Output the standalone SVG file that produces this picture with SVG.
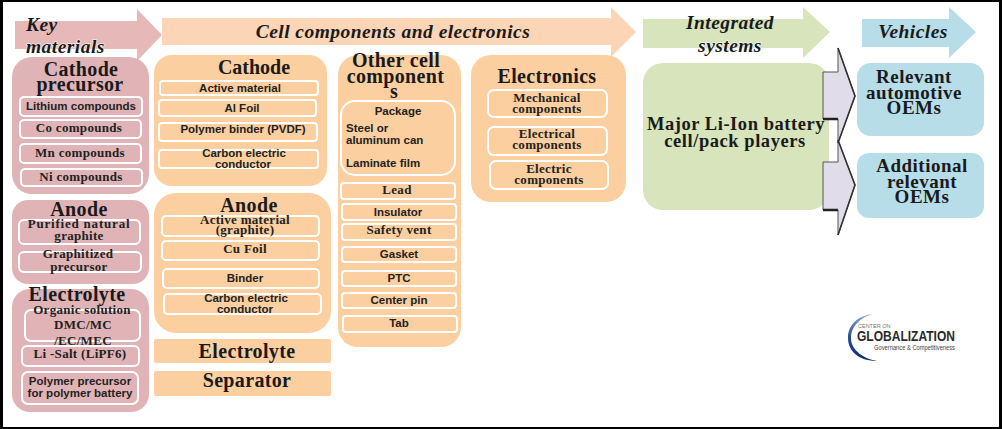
<svg xmlns="http://www.w3.org/2000/svg" width="1002" height="429" viewBox="0 0 1002 429">
<defs>
<linearGradient id="crescent" x1="0" y1="0" x2="0" y2="1"><stop offset="0" stop-color="#8fa5cc"/><stop offset="0.5" stop-color="#1f4e96"/><stop offset="1" stop-color="#0e2f6b"/></linearGradient>
</defs>
<style>
.pink{fill:#e0b4b6}
.or{fill:#fbcf9f}
.gr{fill:#d7e4bc}
.bl{fill:#b7dde8}
.in{fill:none;stroke:#fff;stroke-width:2}
.h{font-family:"Liberation Serif",serif;font-weight:700;fill:#1a1a1a;text-anchor:middle}
.h1{font-size:20px;letter-spacing:.35px}
.h2{font-size:19px;letter-spacing:.5px}
.t{font-family:"Liberation Sans",sans-serif;font-weight:700;font-size:11.5px;fill:#222;text-anchor:middle}
.s{font-family:"Liberation Serif",serif;font-weight:700;font-size:13px;letter-spacing:.3px;fill:#222;text-anchor:middle}
.i{font-family:"Liberation Serif",serif;font-weight:700;font-style:italic;font-size:19.5px;letter-spacing:.45px;fill:#1a1a1a;text-anchor:middle}
.fringe{stroke:#fff;stroke-width:1.2;paint-order:stroke}
.line{fill:#e0dcea;stroke:#555;stroke-width:1}
.edge{fill:none;stroke:#333;stroke-width:1.6}
.bar{fill:none;stroke:#222;stroke-width:2.5}
</style>
<rect x="0" y="0" width="1002" height="429" fill="#fff"/>

<g id="arrow-key-materials">
<polygon points="15,21 137,21 137,9 162,35 137,61 137,49 15,49" fill="#e6b9b8"/>
<text class="i" x="26" y="31" style="text-anchor:start">Key</text>
<text class="i fringe" x="26" y="53" style="text-anchor:start">materials</text>
</g>
<g id="arrow-cell-components">
<polygon points="162,18 611,18 611,7 636,32 611,57 611,45 162,45" fill="#fbd5b5"/>
<text class="i" x="393" y="38">Cell components and electronics</text>
</g>
<g id="arrow-integrated-systems">
<polygon points="643,19 803,19 803,7 830,32 803,58 803,48 643,48" class="gr"/>
<text class="i" x="730" y="29">Integrated</text>
<text class="i fringe" x="730" y="52">systems</text>
</g>
<g id="arrow-vehicles">
<polygon points="862,19 949,19 949,7 976,32 949,58 949,47 862,47" class="bl"/>
<text class="i" x="913" y="38">Vehicles</text>
</g>

<g id="cathode-precursor">
<rect class="pink" x="12" y="57" width="137" height="137" rx="20"/>
<text class="h h1" x="81" y="76">Cathode</text>
<text class="h h1" x="80" y="91">precursor</text>
<rect class="in" x="20" y="97" width="122" height="19" rx="4"/>
<rect class="in" x="20" y="120" width="121" height="18" rx="4"/>
<rect class="in" x="20" y="144" width="121" height="19" rx="4"/>
<rect class="in" x="21" y="169" width="121" height="17" rx="4"/>
<text class="t" x="81" y="110">Lithium compounds</text>
<text class="s" x="79" y="132">Co compounds</text>
<text class="s" x="80" y="157">Mn compounds</text>
<text class="s" x="81" y="181">Ni compounds</text>
</g>
<g id="anode-materials">
<rect class="pink" x="12" y="200" width="137" height="84" rx="16"/>
<text class="h h1" x="79" y="216">Anode</text>
<rect class="in" x="19" y="220" width="121" height="24" rx="5"/>
<rect class="in" x="19" y="252" width="122" height="20" rx="5"/>
<text class="s" x="79" y="228" style="letter-spacing:.8px">Purified natural</text>
<text class="s" x="79" y="240">graphite</text>
<text class="s" x="78" y="258">Graphitized</text>
<text class="s" x="79" y="271">precursor</text>
</g>
<g id="electrolyte-materials">
<rect class="pink" x="12" y="289" width="137" height="123" rx="18"/>
<text class="h h1" x="77" y="301">Electrolyte</text>
<rect class="in" x="25" y="310" width="115" height="31" rx="6"/>
<rect class="in" x="22" y="346" width="117" height="20" rx="5"/>
<rect class="in" x="22" y="372" width="116" height="32" rx="6"/>
<text class="s" x="82" y="314">Organic solution</text>
<text class="s" x="83" y="329">DMC/MC</text>
<text class="s" x="83" y="345">/EC/MEC</text>
<text class="s" x="80" y="358">Li -Salt (LiPF6)</text>
<text class="t" x="80" y="385">Polymer precursor</text>
<text class="t" x="80" y="397">for polymer battery</text>
</g>

<g id="cathode-cell">
<rect class="or" x="154" y="55" width="173" height="131" rx="18"/>
<text class="h h1" x="254" y="74" style="letter-spacing:0">Cathode</text>
<rect class="in" x="160" y="81" width="158" height="14" rx="3"/>
<rect class="in" x="159" y="100" width="157" height="16" rx="3"/>
<rect class="in" x="159" y="123" width="158" height="18" rx="3"/>
<rect class="in" x="159" y="150" width="159" height="18" rx="3"/>
<text class="t" x="240" y="92">Active material</text>
<text class="t" x="242" y="112">Al Foil</text>
<text class="t" x="243" y="133">Polymer binder (PVDF)</text>
<text class="t" x="244" y="157">Carbon electric</text>
<text class="t" x="243" y="168">conductor</text>
</g>
<g id="anode-cell">
<rect class="or" x="154" y="193" width="177" height="140" rx="22"/>
<text class="h h1" x="249" y="212">Anode</text>
<rect class="in" x="162" y="216" width="157" height="20" rx="4"/>
<rect class="in" x="162" y="241" width="157" height="19" rx="4"/>
<rect class="in" x="163" y="269" width="156" height="19" rx="4"/>
<rect class="in" x="164" y="294" width="157" height="20" rx="4"/>
<text class="s" x="245" y="224">Active material</text>
<text class="s" x="245" y="234">(graphite)</text>
<text class="s" x="245" y="253">Cu Foil</text>
<text class="t" x="245" y="282">Binder</text>
<text class="t" x="246" y="302">Carbon electric</text>
<text class="t" x="245" y="313">conductor</text>
</g>
<g id="electrolyte-cell">
<rect class="or" x="154" y="339" width="177" height="24" rx="2"/>
<text class="h h1" x="247" y="358">Electrolyte</text>
</g>
<g id="separator-cell">
<rect class="or" x="154" y="371" width="177" height="25" rx="2"/>
<text class="h h1" x="247" y="387">Separator</text>
</g>

<g id="other-cell-components">
<rect class="or" x="338" y="55" width="123" height="292" rx="20"/>
<text class="h h1" x="396" y="67">Other cell</text>
<text class="h h1" x="395.500" y="83">component</text>
<text class="h h1" x="394" y="98">s</text>
<rect class="in" x="341" y="101" width="114" height="74" rx="14"/>
<text class="t" x="398" y="115">Package</text>
<text class="t" x="346" y="132" style="text-anchor:start">Steel  or</text>
<text class="t" x="346" y="144" style="text-anchor:start">aluminum can</text>
<text class="t" x="346" y="167" style="text-anchor:start">Laminate film</text>
<rect class="in" x="341" y="183" width="114" height="16" rx="3"/>
<rect class="in" x="342" y="204" width="114" height="16" rx="3"/>
<rect class="in" x="342" y="224" width="114" height="16" rx="3"/>
<rect class="in" x="342" y="247" width="114" height="15" rx="3"/>
<rect class="in" x="342" y="271" width="114" height="15" rx="3"/>
<rect class="in" x="342" y="293" width="114" height="15" rx="3"/>
<rect class="in" x="343" y="316" width="114" height="16" rx="3"/>
<text class="s" x="397" y="194">Lead</text>
<text class="t" x="398" y="216">Insulator</text>
<text class="s" x="399" y="234">Safety vent</text>
<text class="t" x="399" y="258">Gasket</text>
<text class="t" x="399" y="282">PTC</text>
<text class="t" x="399" y="304">Center pin</text>
<text class="t" x="399" y="327">Tab</text>
</g>
<g id="electronics">
<rect class="or" x="471" y="55" width="155" height="147" rx="20"/>
<text class="h h1" x="547" y="83">Electronics</text>
<rect class="in" x="488" y="90" width="119" height="27" rx="6"/>
<rect class="in" x="488" y="127" width="119" height="28" rx="6"/>
<rect class="in" x="490" y="161" width="118" height="28" rx="6"/>
<text class="s" x="547" y="102">Mechanical</text>
<text class="s" x="547" y="113">components</text>
<text class="s" x="547" y="138">Electrical</text>
<text class="s" x="547" y="149">components</text>
<text class="s" x="549" y="173">Electric</text>
<text class="s" x="549" y="184">components</text>
</g>

<g id="integrated-players">
<rect class="gr" x="643" y="63" width="186" height="147" rx="20"/>
<text class="h" style="font-size:18.500px;letter-spacing:.55px" x="736" y="130">Major Li-Ion battery</text>
<text class="h" style="font-size:18.500px;letter-spacing:.55px" x="735" y="147">cell/pack players</text>
</g>
<g id="relevant-oems">
<rect class="bl" x="857" y="63" width="127" height="73" rx="14"/>
<text class="h h2" x="914" y="83">Relevant</text>
<text class="h h2" x="914" y="99">automotive</text>
<text class="h h2" x="914" y="114">OEMs</text>
</g>
<g id="additional-oems">
<rect class="bl" x="857" y="153" width="127" height="65" rx="12"/>
<text class="h h2" x="922" y="172">Additional</text>
<text class="h h2" x="922" y="188">relevant</text>
<text class="h h2" x="922" y="203">OEMs</text>
</g>

<g id="connectors">
<polygon class="line" points="823,72 838,72 838,48 855,96 838,143 838,119 823,119"/>
<polygon class="line" points="823,162 838,162 838,140 855,185 838,235 838,210 823,210"/>
<path class="edge" d="M838,48 L855,96 L838,143 M838,140 L855,185 L838,235"/>
<path class="bar" d="M823,119 H838 M823,210 H838"/>
</g>

<g id="logo">
<path d="M873,314 C856,316 848,326 848,338 C848,352 860,361 877,361 C865,359 851,351 851,338 C851,326 861,317 873,314 Z" fill="url(#crescent)"/>
<text x="858" y="328" font-family="Liberation Sans,sans-serif" font-size="5.500" fill="#777">CENTER ON</text>
<text x="857" y="341" font-family="Liberation Sans,sans-serif" font-weight="700" font-size="14" fill="#2a2a2a" textLength="98" lengthAdjust="spacingAndGlyphs">GLOBALIZATION</text>
<text x="874" y="350" font-family="Liberation Sans,sans-serif" font-size="7.500" fill="#444" textLength="81" lengthAdjust="spacingAndGlyphs">Governance &amp; Competitiveness</text>
</g>

<g id="frame" fill="#000">
<rect x="0" y="0" width="1002" height="2"/>
<rect x="0" y="0" width="3" height="429"/>
<rect x="0" y="427" width="1002" height="2"/>
<rect x="999" y="0" width="3" height="429"/>
</g>
</svg>
